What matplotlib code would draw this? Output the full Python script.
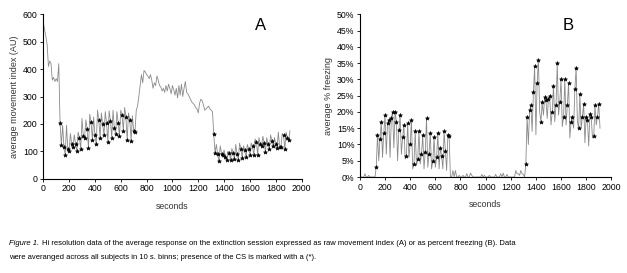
import numpy as np
import matplotlib
matplotlib.use("Agg")
import matplotlib.pyplot as plt
from matplotlib.ticker import PercentFormatter

plt.rcParams["font.family"] = ["Liberation Sans", "DejaVu Sans"]

# time in 10 s bins
seconds = np.arange(0, 1920, 10)

# raw movement index (AU), one value per bin
movement = [
    570, 545, 520, 490, 410, 430, 420, 360, 370, 355, 365, 355, 420,
    205, 122, 195, 115, 88, 195, 108, 102, 165, 128, 115, 160, 128, 100, 170,
    148, 108, 220, 155, 150, 215, 180, 112, 235, 208, 143, 225, 158, 125, 250,
    215, 148, 240, 198, 160, 245, 202, 135, 248, 210, 150, 250, 185, 165, 245,
    205, 155, 250, 232, 175, 260, 225, 140, 240, 215, 138, 230, 175, 170,
    250, 265, 300, 340, 380, 350, 395, 390, 380, 375, 365, 380, 360, 330,
    350, 340, 375, 360, 340, 335, 320, 330, 315, 340, 320, 345, 330, 310,
    340, 325, 305, 330, 295, 340, 305, 345, 300, 330, 355, 315, 310, 300,
    290, 280, 275, 270, 260, 255, 240, 275, 290, 285, 270, 250, 255, 260,
    265, 255, 250, 245,
    162, 95, 125, 90, 65, 120, 92, 85, 105, 80, 68, 100, 95, 68, 110,
    95, 72, 125, 90, 70, 130, 110, 75, 120, 105, 78, 125, 110, 88, 130,
    120, 85, 145, 135, 88, 150, 128, 118, 155, 132, 98, 150, 125, 108, 160,
    138, 118, 150, 128, 112, 170, 115, 115, 165, 160, 108, 170, 148, 140, 175,
]

# percent freezing, one value per bin
freezing = [
    0, 0, 0, 0, 1, 0, 0, 0.5, 0, 0, 0, 0, 0,
    3, 13, 5, 11.7, 17, 6, 13.5, 19, 7, 16.5, 17.5, 6, 18, 20, 9,
    20, 17, 5, 14.5, 19, 7, 12.2, 16, 5.5, 6.5, 16.5, 6, 10, 17.5, 2.5,
    4, 14.2, 3.5, 5.5, 14, 4, 7, 13, 2.5, 7.8, 18, 3, 7.2, 13.5, 2.5,
    5, 12.2, 3, 6, 13.5, 2.5, 9, 6.5, 2.5, 14, 8, 2, 13, 12.7,
    0, 0, 2, 0, 2, 0, 0, 0.5, 0, 0, 0.5, 0, 0, 1, 0,
    0, 1.2, 0.5, 0, 0, 0, 0, 0, 0, 0, 0.8, 0, 0.5, 0, 0,
    0, 0.5, 0, 0, 0, 0, 0.8, 0, 0, 0, 1, 0, 1.2, 0, 0,
    0.8, 0, 0, 0, 0, 0, 0, 2, 1, 1, 0.5, 2, 1, 0.8, 0,
    4, 18.5, 10, 20.5, 22, 14, 26, 34, 13, 29, 36, 20, 17, 23, 19,
    24.5, 23.7, 18, 24, 25, 16, 20, 28, 17, 22, 35, 19, 23, 30, 15.5,
    18.5, 30, 16, 22, 29, 12, 17, 18.5, 15, 27, 33.5, 17, 15, 25.5, 15,
    18.5, 22.5, 10.5, 18.5, 17.5, 9.5, 19.5, 18.5, 12, 12.5, 22, 16, 18.5, 22.5, 15,
]

# bins with the CS present (marked with *): two CS bins, one ITI bin
cs_bins = ([i for i in range(13, 72) if (i - 13) % 3 != 2]
           + [i for i in range(132, 191) if (i - 132) % 3 != 2])

movement = np.asarray(movement, dtype=float)
freezing = np.asarray(freezing, dtype=float)

fig = plt.figure(figsize=(6.27, 2.73), dpi=100)
axA = fig.add_axes([0.069, 0.3454, 0.412, 0.602])
axB = fig.add_axes([0.574, 0.3516, 0.401, 0.596])

line_kw = dict(color="#8a8a8a", lw=0.6)
mark_kw = dict(ls="none", marker="*", ms=3.0, color="black", mew=0.4)

axA.plot(seconds, movement, **line_kw)
axA.plot(seconds[cs_bins], movement[cs_bins], **mark_kw)
axA.set_xlim(0, 2000)
axA.set_ylim(0, 600)
axA.set_yticks(range(0, 601, 100))
axA.set_ylabel("average movement index (AU)", fontsize=6.5, color="#333333", labelpad=3)
axA.text(0.84, 0.93, "A", transform=axA.transAxes, fontsize=12, ha="center", va="center")

axB.plot(seconds, freezing, **line_kw)
axB.plot(seconds[cs_bins], freezing[cs_bins], **mark_kw)
axB.set_xlim(0, 2000)
axB.set_ylim(0, 50)
axB.set_yticks(range(0, 51, 5))
axB.yaxis.set_major_formatter(PercentFormatter(decimals=0))
axB.set_ylabel("average % freezing", fontsize=6.5, color="#333333", labelpad=3)
axB.text(0.83, 0.93, "B", transform=axB.transAxes, fontsize=12, ha="center", va="center")

for ax in (axA, axB):
    ax.set_xticks(range(0, 2001, 200))
    ax.spines["top"].set_visible(False)
    ax.spines["right"].set_visible(False)
    ax.spines["left"].set_linewidth(0.8)
    ax.spines["bottom"].set_linewidth(0.8)
    ax.tick_params(labelsize=6.3, length=2.5, width=0.6, pad=1.5)
    ax.set_xlabel("seconds", fontsize=6.3, color="#333333", labelpad=6)

# caption: italic lead-in, then the rest
cap_fs = 5.5
x0 = 9 / 627
fig.canvas.draw()
renderer = fig.canvas.get_renderer()
lead = fig.text(x0, 0.108, "Figure 1.", fontsize=cap_fs, style="italic", va="center")
w = lead.get_window_extent(renderer).width
fig.text(x0 + (w + 2.5) / 627, 0.108,
         "Hi resolution data of the average response on the extinction session "
         "expressed as raw movement index (A) or as percent freezing (B). Data",
         fontsize=cap_fs, va="center")
fig.text(x0, 0.058, "were averanged across all subjects in 10 s. binns; presence of the CS is marked with a (*).",
         fontsize=cap_fs, va="center")

fig.savefig("out.png", dpi=100)
